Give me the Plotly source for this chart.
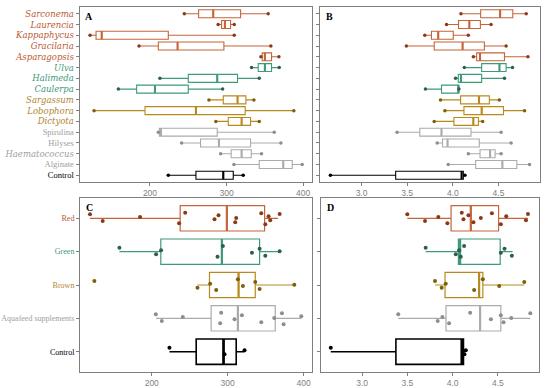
import plotly.graph_objects as go

# ---------------- data ----------------
species = ["Sarconema", "Laurencia", "Kappaphycus", "Gracilaria", "Asparagopsis",
           "Ulva", "Halimeda", "Caulerpa", "Sargassum", "Lobophora", "Dictyota",
           "Spirulina", "Hilyses", "Haematococcus", "Alginate", "Control"]
species_group = ["Red"] * 5 + ["Green"] * 3 + ["Brown"] * 3 + ["Aquafeed supplements"] * 4 + ["Control"]
species_italic = [True] * 11 + [False, False, True, False, False]

# Panel A (species, first variable)
a_min = [244.8, 289.0, 121.8, 185.7, 344.8, 332.6, 213.0, 158.7, 277.0, 127.0, 286.0, 210.9, 241.3, 292.2, 309.6, 223.9]
a_q1 = [263.5, 293.5, 129.6, 210.9, 346.5, 341.3, 250.0, 182.6, 295.7, 193.5, 302.2, 212.2, 266.0, 306.0, 342.6, 260.0]
a_med = [282.6, 297.8, 137.0, 236.0, 350.0, 350.0, 287.8, 206.5, 314.3, 260.0, 319.6, 214.3, 290.0, 319.6, 374.0, 295.7]
a_q3 = [318.3, 305.2, 223.9, 296.5, 358.7, 358.7, 314.3, 250.0, 325.2, 324.3, 331.3, 287.8, 331.3, 332.2, 385.7, 308.7]
a_max = [354.3, 310.0, 310.0, 357.8, 368.3, 368.7, 342.6, 294.8, 335.7, 387.8, 342.6, 362.2, 370.9, 345.6, 398.7, 321.7]

# Panel B (species, second variable)
b_min = [4.089, 3.931, 3.693, 3.491, 4.225, 4.126, 4.030, 3.700, 3.865, 3.913, 3.796, 3.389, 3.829, 4.170, 3.950, 2.659]
b_q1 = [4.305, 4.063, 3.766, 3.796, 4.261, 4.316, 4.060, 3.876, 4.085, 4.122, 4.012, 3.638, 3.887, 4.298, 4.250, 3.374]
b_med = [4.518, 4.181, 3.840, 4.107, 4.298, 4.511, 4.089, 4.060, 4.287, 4.316, 4.225, 3.876, 3.942, 4.408, 4.543, 4.096]
b_q3 = [4.657, 4.302, 4.005, 4.346, 4.566, 4.584, 4.316, 4.067, 4.400, 4.555, 4.280, 4.199, 4.290, 4.463, 4.701, 4.115]
b_max = [4.804, 4.419, 4.170, 4.584, 4.823, 4.654, 4.566, 4.067, 4.510, 4.786, 4.327, 4.529, 4.639, 4.529, 4.840, 4.133]

# Panels C / D (groups)
groups = ["Red", "Green", "Brown", "Aquafeed supplements", "Control"]

c_min = [118.7, 157.4, 260.2, 205.7, 223.3]
c_q1 = [237.4, 211.9, 276.0, 278.2, 258.5]
c_med = [298.9, 292.3, 314.3, 313.4, 294.5]
c_q3 = [348.6, 342.0, 336.3, 362.6, 311.2]
c_max = [366.2, 368.4, 387.7, 396.9, 322.2]
c_points = [
    [118.7, 135.4, 184.6, 236.0, 244.0, 282.6, 287.9, 309.9, 311.2, 344.2, 349.5, 353.8, 356.0, 368.4],
    [157.4, 205.7, 212.3, 286.6, 293.6, 331.9, 342.0, 349.5, 368.4],
    [124.4, 260.2, 276.9, 284.8, 313.4, 320.0, 336.3, 342.0, 387.7],
    [205.3, 213.2, 240.9, 290.1, 291.4, 309.0, 318.7, 344.2, 361.3, 371.4, 373.6, 396.9],
    [223.3, 295.8, 322.2],
]

d_min = [3.499, 3.702, 3.805, 3.399, 2.653]
d_q1 = [3.983, 4.064, 3.916, 3.927, 3.373]
d_med = [4.201, 4.083, 4.293, 4.304, 4.101]
d_q3 = [4.508, 4.526, 4.334, 4.533, 4.120]
d_max = [4.833, 4.663, 4.792, 4.859, 4.138]
d_points = [
    [3.499, 3.695, 3.842, 3.942, 4.101, 4.120, 4.175, 4.230, 4.312, 4.434, 4.533, 4.593, 4.811, 4.833],
    [3.702, 4.035, 4.072, 4.090, 4.127, 4.533, 4.574, 4.655],
    [3.805, 3.879, 3.924, 4.238, 4.334, 4.515, 4.792],
    [3.399, 3.835, 3.887, 3.961, 4.194, 4.423, 4.533, 4.563, 4.648, 4.859],
    [2.653, 4.131, 4.146],
]

x_ticks_ab = [200, 300, 400]
x_ticks_bd = [3.0, 3.5, 4.0, 4.5]

# ---------------- styles ----------------
line_col = {"Red": "#C4653A", "Green": "#3E9A78", "Brown": "#B8891E",
            "Aquafeed supplements": "#ABABAB", "Control": "#000000"}
dot_col = {"Red": "#8A3A18", "Green": "#2E5E4C", "Brown": "#7E5E0A",
           "Aquafeed supplements": "#8E8E8E", "Control": "#000000"}
label_col = {"Red": "#B85A33", "Green": "#3E9A78", "Brown": "#B08530",
             "Aquafeed supplements": "#A0A0A0", "Control": "#000000"}
jit = [0.12, -0.08, 0.04, -0.15, 0.17, -0.03, 0.09, -0.12, 0.01, 0.15, -0.18, 0.06, -0.06, 0.13, -0.1]

W, H = 550, 388
frame = "#7F7F7F"

fig = go.Figure()

n_sp = len(species)
sp_pos = [n_sp - 1 - i for i in range(n_sp)]
n_g = len(groups)
g_pos = [n_g - 1 - i for i in range(n_g)]


def add_box(xa, ya, pos, mn, q1, md, q3, mx, grp, width, lw):
    col = line_col[grp]
    fig.add_trace(go.Box(
        orientation="h", y=[pos], q1=[q1], median=[md], q3=[q3],
        lowerfence=[mn], upperfence=[mx], width=width, whiskerwidth=0,
        line=dict(color=col, width=lw), fillcolor="rgba(255,255,255,0)",
        boxpoints=False, xaxis=xa, yaxis=ya, showlegend=False, hoverinfo="skip"))
    fig.add_trace(go.Scatter(
        x=[md, md], y=[pos - width / 2, pos + width / 2], mode="lines",
        line=dict(color=col, width=lw + 1), xaxis=xa, yaxis=ya,
        showlegend=False, hoverinfo="skip"))


for i in range(n_sp):
    g = species_group[i]
    p = sp_pos[i]
    add_box("x", "y", p, a_min[i], a_q1[i], a_med[i], a_q3[i], a_max[i], g, 0.74, 1.1)
    fig.add_trace(go.Scatter(x=[a_min[i], a_max[i]], y=[p, p], mode="markers",
                             marker=dict(size=3.5, color=dot_col[g]), xaxis="x", yaxis="y",
                             showlegend=False, hoverinfo="skip"))
    add_box("x2", "y2", p, b_min[i], b_q1[i], b_med[i], b_q3[i], b_max[i], g, 0.74, 1.1)
    fig.add_trace(go.Scatter(x=[b_min[i], b_max[i]], y=[p, p], mode="markers",
                             marker=dict(size=3.5, color=dot_col[g]), xaxis="x2", yaxis="y2",
                             showlegend=False, hoverinfo="skip"))

for i in range(n_g):
    g = groups[i]
    p = g_pos[i]
    lw = 1.6 if g == "Control" else 1.2
    add_box("x3", "y3", p, c_min[i], c_q1[i], c_med[i], c_q3[i], c_max[i], g, 0.76, lw)
    add_box("x4", "y4", p, d_min[i], d_q1[i], d_med[i], d_q3[i], d_max[i], g, 0.76, lw)
    for xa, ya, pts in (("x3", "y3", c_points[i]), ("x4", "y4", d_points[i])):
        fig.add_trace(go.Scatter(
            x=pts, y=[p + jit[k % len(jit)] for k in range(len(pts))], mode="markers",
            marker=dict(size=4, color=dot_col[g]), xaxis=xa, yaxis=ya,
            showlegend=False, hoverinfo="skip"))


def sp_label(name, grp, ital):
    c = label_col[grp]
    if ital:
        return f'<span style="color:{c};font-family:DejaVu Serif"><i>{name}</i></span>'
    return f'<span style="color:{c}">{name}</span>'


sp_text = [sp_label(species[i], species_group[i], species_italic[i]) for i in range(n_sp)]
g_text = [f'<span style="color:{label_col[g]}">{g}</span>' for g in groups]


def px(v, total):
    return v / total


common = dict(showline=True, mirror=True, linecolor=frame, linewidth=1, ticks="outside",
              ticklen=3, tickcolor=frame, showgrid=False, zeroline=False, automargin=False)
xfont = dict(family="Liberation Sans", size=8.5, color="#7F7F7F")
yfont = dict(family="Liberation Serif", size=8.5, color="#333333")
yfont_c = dict(family="Liberation Serif", size=8, color="#333333")

dom_a_x = [px(79.5, W), px(312, W)]
dom_b_x = [px(320, W), px(540, W)]
dom_c_x = [px(80, W), px(312, W)]
dom_d_x = [px(321, W), px(539, W)]
dom_top_y = [1 - px(181.7, H), 1 - px(7.3, H)]
dom_bot_y = [1 - px(371.7, H), 1 - px(198.3, H)]

fig.update_layout(
    width=W, height=H, autosize=False,
    margin=dict(l=0, r=0, t=0, b=0, autoexpand=False),
    paper_bgcolor="white", plot_bgcolor="white",
    showlegend=False,
    xaxis=dict(domain=dom_a_x, anchor="y", range=[108, 411.5], tickvals=x_ticks_ab,
               tickfont=xfont, **common),
    yaxis=dict(domain=dom_top_y, anchor="x", range=[-0.6, n_sp - 0.4],
               tickvals=sp_pos, ticktext=sp_text, tickfont=yfont, **common),
    xaxis2=dict(domain=dom_b_x, anchor="y2", range=[2.545, 4.955], tickvals=x_ticks_bd,
                ticktext=[f"{v:.1f}" for v in x_ticks_bd], tickfont=xfont, **common),
    yaxis2=dict(domain=dom_top_y, anchor="x2", range=[-0.6, n_sp - 0.4],
                tickvals=sp_pos, showticklabels=False, **common),
    xaxis3=dict(domain=dom_c_x, anchor="y3", range=[105.5, 411], tickvals=x_ticks_ab,
                tickfont=xfont, **common),
    yaxis3=dict(domain=dom_bot_y, anchor="x3", range=[-0.6, n_g - 0.4],
                tickvals=g_pos, ticktext=g_text, tickfont=yfont_c, **common),
    xaxis4=dict(domain=dom_d_x, anchor="y4", range=[2.545, 4.955], tickvals=x_ticks_bd,
                ticktext=[f"{v:.1f}" for v in x_ticks_bd], tickfont=xfont, **common),
    yaxis4=dict(domain=dom_bot_y, anchor="x4", range=[-0.6, n_g - 0.4],
                tickvals=g_pos, showticklabels=False, **common),
)

panel_font = dict(family="Liberation Serif", size=10, color="black")
for lab, xd, yd in (("A", dom_a_x, dom_top_y), ("B", dom_b_x, dom_top_y),
                    ("C", dom_c_x, dom_bot_y), ("D", dom_d_x, dom_bot_y)):
    fig.add_annotation(text=f"<b>{lab}</b>", xref="paper", yref="paper",
                       x=xd[0] + px(4, W), y=yd[1] - px(2, H), xanchor="left", yanchor="top",
                       showarrow=False, font=panel_font)

fig.write_html("out.html", config={"displayModeBar": False},
               post_script="document.body.style.margin='0';document.body.style.overflow='hidden';")
